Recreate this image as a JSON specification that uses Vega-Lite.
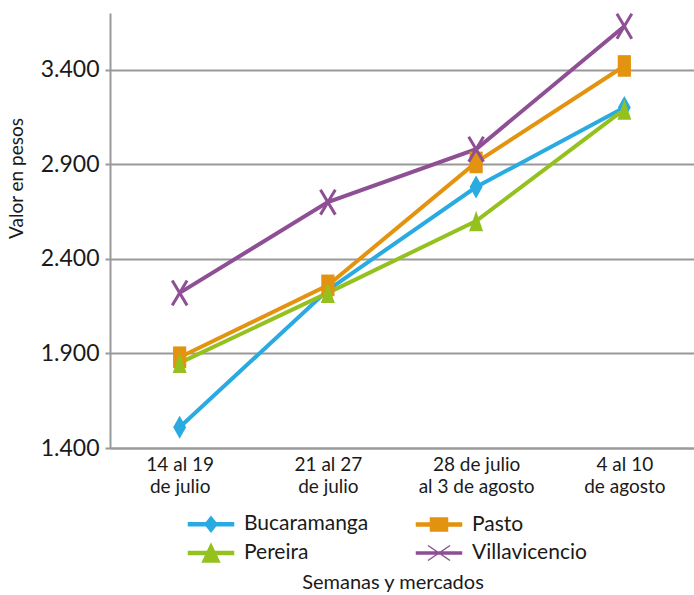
{
  "$schema": "https://vega.github.io/schema/vega-lite/v6.json",
  "width": 584,
  "height": 435,
  "autosize": "none",
  "padding": {"left": 110, "top": 13, "right": 0, "bottom": 147},
  "background": "white",
  "config": {
    "view": {"stroke": null},
    "font": "Lato",
    "axis": {"labelFont": "Lato", "titleFont": "Lato", "labelColor": "#1a1a1a", "titleColor": "#1a1a1a", "domainColor": "#999999", "gridColor": "#999999", "tickColor": "#999999"},
    "legend": {"labelFont": "Lato", "titleFont": "Lato"}
  },
  "data": {
    "values": [
      {"mercado": "Bucaramanga", "semana": "14 al 19|de julio", "valor": 1510},
      {"mercado": "Bucaramanga", "semana": "21 al 27|de julio", "valor": 2235},
      {"mercado": "Bucaramanga", "semana": "28 de julio|al 3 de agosto", "valor": 2780},
      {"mercado": "Bucaramanga", "semana": "4 al 10|de agosto", "valor": 3200},
      {"mercado": "Pasto", "semana": "14 al 19|de julio", "valor": 1880},
      {"mercado": "Pasto", "semana": "21 al 27|de julio", "valor": 2260},
      {"mercado": "Pasto", "semana": "28 de julio|al 3 de agosto", "valor": 2910},
      {"mercado": "Pasto", "semana": "4 al 10|de agosto", "valor": 3420},
      {"mercado": "Pereira", "semana": "14 al 19|de julio", "valor": 1850},
      {"mercado": "Pereira", "semana": "21 al 27|de julio", "valor": 2220},
      {"mercado": "Pereira", "semana": "28 de julio|al 3 de agosto", "valor": 2600},
      {"mercado": "Pereira", "semana": "4 al 10|de agosto", "valor": 3190},
      {"mercado": "Villavicencio", "semana": "14 al 19|de julio", "valor": 2220},
      {"mercado": "Villavicencio", "semana": "21 al 27|de julio", "valor": 2700},
      {"mercado": "Villavicencio", "semana": "28 de julio|al 3 de agosto", "valor": 2980},
      {"mercado": "Villavicencio", "semana": "4 al 10|de agosto", "valor": 3630}
    ]
  },
  "encoding": {
    "x": {
      "field": "semana", "type": "ordinal", "sort": null,
      "scale": {"type": "point", "padding": 0.47},
      "axis": {"title": null, "labelAngle": 0, "labelExpr": "split(datum.label, '|')", "labelFontSize": 19, "labelLineHeight": 22, "labelPadding": 7, "ticks": false, "domainWidth": 2, "grid": false}
    },
    "y": {
      "field": "valor", "type": "quantitative",
      "scale": {"domain": [1400, 3700], "nice": false, "zero": false},
      "axis": {"title": "Valor en pesos", "titleFontSize": 19, "titleFontWeight": "normal", "titleX": -84, "titleY": 165, "titleAlign": "center", "values": [1400, 1900, 2400, 2900, 3400], "labelExpr": "replace(format(datum.value, ','), ',', '.')", "labelFontSize": 23, "labelPadding": 6, "tickSize": 5, "tickWidth": 2, "domainWidth": 2, "gridWidth": 2}
    }
  },
  "layer": [
    {
      "mark": {"type": "line", "strokeWidth": 4},
      "encoding": {
        "color": {
          "field": "mercado", "type": "nominal",
          "scale": {"domain": ["Bucaramanga", "Pasto", "Pereira", "Villavicencio"], "range": ["#29abe2", "#e3930f", "#95c11f", "#8e4f95"]},
          "legend": {
            "title": "Semanas y mercados", "titleOrient": "bottom", "titleAnchor": "middle", "titleFontSize": 20, "titleFontWeight": "normal", "titleColor": "#1a1a1a", "titlePadding": 8, "titleLimit": 500,
            "orient": "none", "legendX": 90, "legendY": 500, "direction": "horizontal", "columns": 2, "columnPadding": 44, "rowPadding": 6,
            "labelFontSize": 21, "labelColor": "#1a1a1a", "labelOffset": 22, "symbolSize": 400, "labelLimit": 300,
            "encode": {
              "symbols": {
                "update": {
                  "shape": {"signal": "datum.value == 'Bucaramanga' ? 'M-2.25,-0.15H2.25V0.15H-2.25Z M0,-0.75L0.6,0L0,0.75L-0.6,0Z' : datum.value == 'Pasto' ? 'M-2.25,-0.15H2.25V0.15H-2.25Z M-0.85,-0.65H0.85V0.65H-0.85Z' : datum.value == 'Pereira' ? 'M-2.25,-0.15H2.25V0.15H-2.25Z M0,-0.9L0.85,0.9H-0.85Z' : 'M-2.25,-0.1H2.25V0.1H-2.25Z M-1.1,-0.75L1.1,0.75M1.1,-0.75L-1.1,0.75'"},
                  "fill": {"signal": "scale('color', datum.value)"},
                  "stroke": {"signal": "scale('color', datum.value)"},
                  "strokeWidth": {"value": 1.5},
                  "size": {"value": 400},
                  "opacity": {"value": 1}
                }
              }
            }
          }
        }
      }
    },
    {
      "transform": [{"filter": {"field": "mercado", "equal": "Bucaramanga"}}],
      "mark": {"type": "point", "filled": true, "opacity": 1, "size": 576, "color": "#29abe2", "shape": "M0,-0.96L0.54,0L0,0.96L-0.54,0Z"}
    },
    {
      "transform": [{"filter": {"field": "mercado", "equal": "Pasto"}}],
      "mark": {"type": "point", "filled": true, "opacity": 1, "size": 576, "color": "#e3930f", "shape": "M-0.55,-0.9H0.55V0.9H-0.55Z"}
    },
    {
      "transform": [{"filter": {"field": "mercado", "equal": "Pereira"}}],
      "mark": {"type": "point", "filled": true, "opacity": 1, "size": 576, "color": "#95c11f", "shape": "M0,-0.85L0.58,0.85H-0.58Z"}
    },
    {
      "transform": [{"filter": {"field": "mercado", "equal": "Villavicencio"}}],
      "mark": {"type": "point", "filled": false, "opacity": 1, "size": 576, "strokeWidth": 3, "color": "#8e4f95", "shape": "M-0.62,-1.04L0.62,1.04M0.62,-1.04L-0.62,1.04"}
    }
  ]
}
